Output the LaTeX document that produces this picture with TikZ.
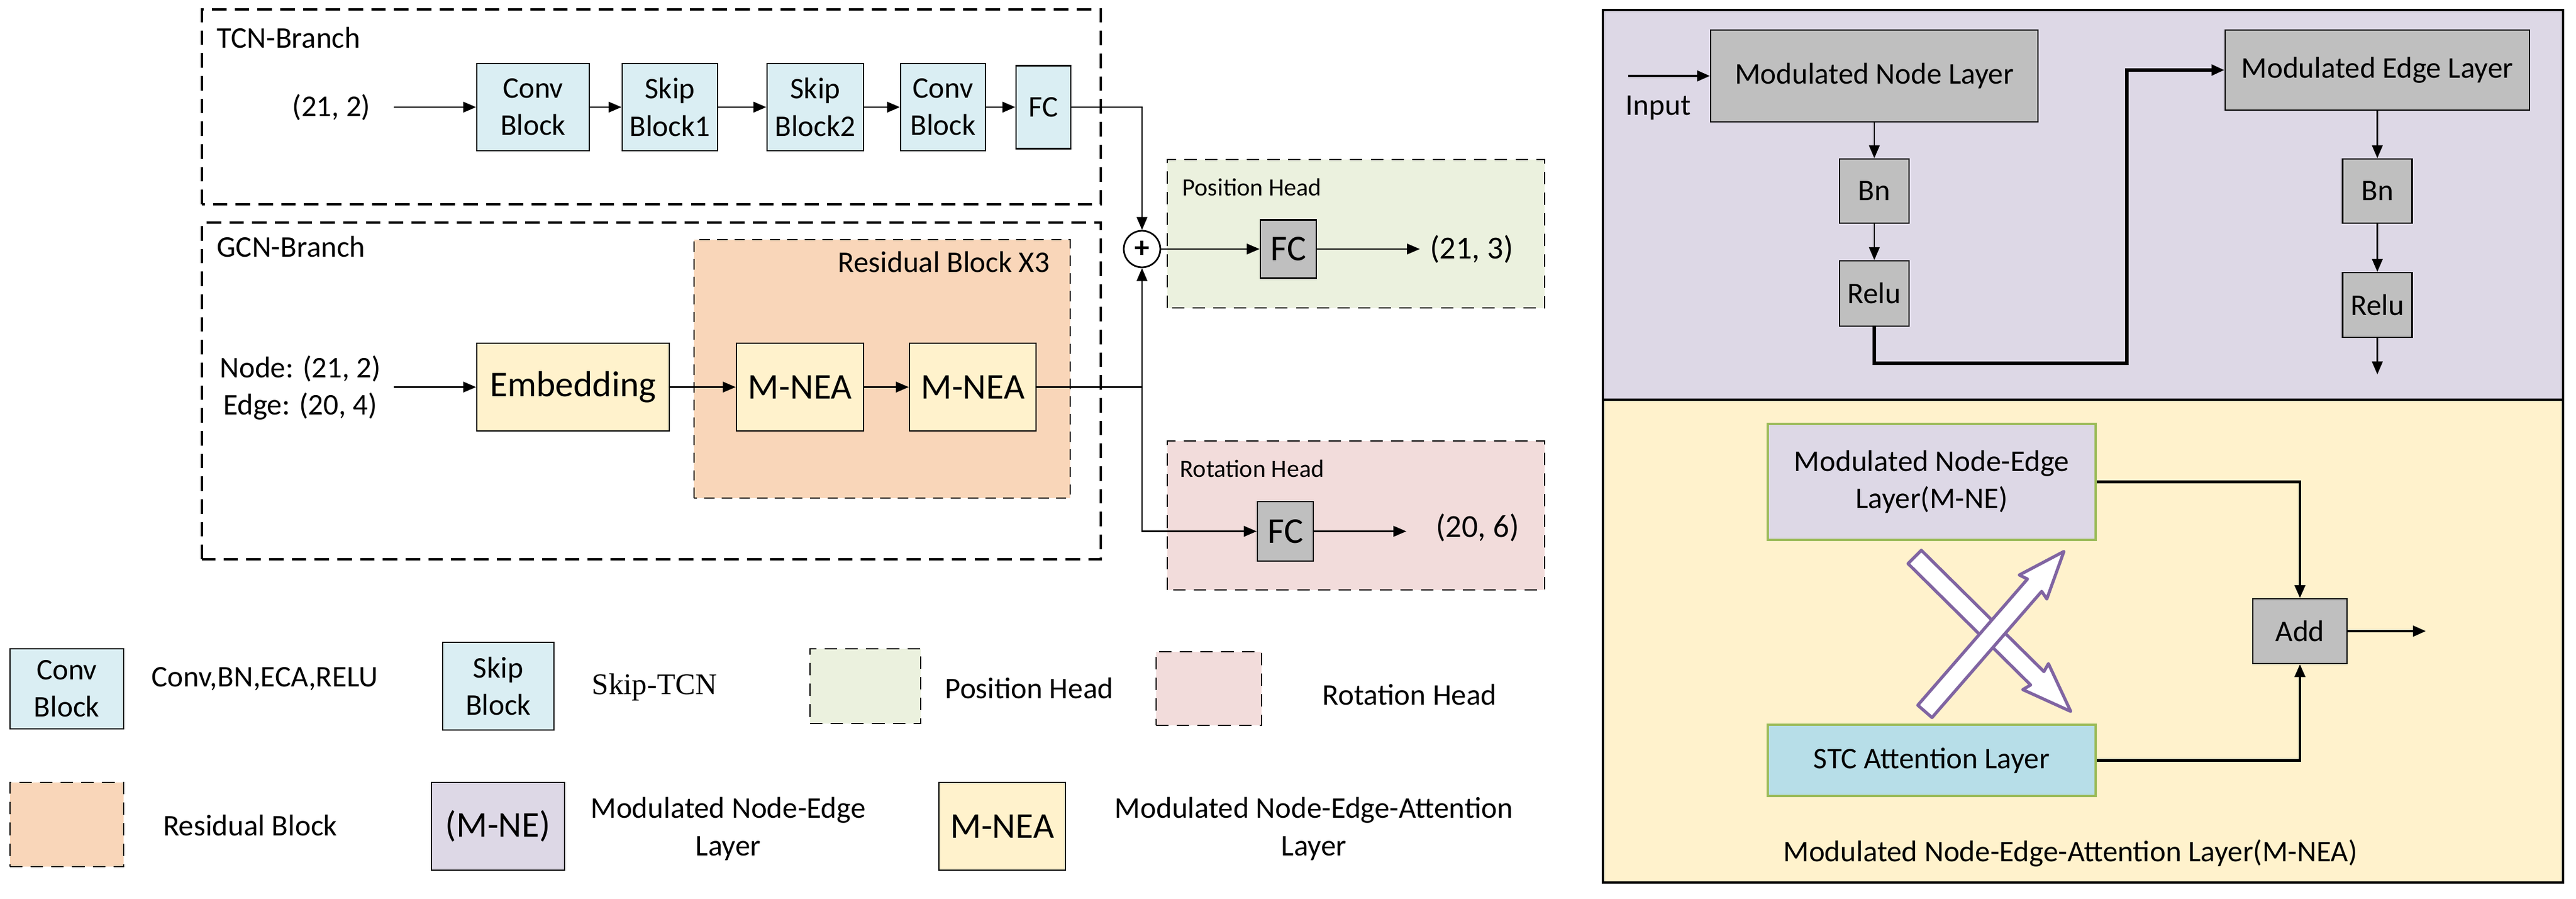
\documentclass[tikz,border=0pt]{standalone}
\usepackage{fontspec}
\setmainfont{Carlito}
\newfontfamily\timesfont{Liberation Serif}
\usetikzlibrary{arrows.meta}
\definecolor{convblue}{HTML}{DAEEF3}
\definecolor{embyellow}{HTML}{FFF2CC}
\definecolor{resorange}{HTML}{F9D6B9}
\definecolor{posgreen}{HTML}{EBF1DE}
\definecolor{rotpink}{HTML}{F2DCDB}
\definecolor{blockgray}{HTML}{BFBFBF}
\definecolor{panelpurple}{HTML}{DDD8E6}
\definecolor{stcblue}{HTML}{B7DEE8}
\definecolor{leafgreen}{HTML}{9BBB59}
\definecolor{crossviolet}{HTML}{8064A2}

\begin{document}
\begin{tikzpicture}[every node/.style={font=\fontsize{14.5}{18}\selectfont, align=center, inner sep=0pt},
    blk/.style={draw, line width=0.7pt},
    big/.style={font=\fontsize{17.5}{21}\selectfont},
    small/.style={font=\fontsize{12}{14}\selectfont},
    branch/.style={draw, line width=1pt, dash pattern=on 7pt off 4pt},
    headbox/.style={draw, line width=0.7pt, dash pattern=on 6pt off 4pt},
    resbox/.style={draw, line width=0.7pt, dash pattern=on 5pt off 3.5pt},
    arr/.style={-{Triangle[length=0.22cm,width=0.18cm]}, line width=0.8pt},
    rarr/.style={arr, line width=1.2pt},
    xarrow/.style={draw=crossviolet, fill=white, line width=1.5pt, line join=round}]
    \path[use as bounding box, fill=white] (0,0) rectangle (43.76,15.27);

    \draw[branch] (3.43,11.80) rectangle (18.70,15.11);
    \node[anchor=base west] (tcnlab) at (3.68,14.45) {TCN-Branch};
    \node (tcnin) at (5.63,13.45) {(21, 2)};
    \coordinate (tcnstart) at (6.69,13.45);
    \node[blk, fill=convblue, minimum width=1.91cm, minimum height=1.48cm] (conv1) at (9.055,13.45) {Conv\\Block};
    \node[blk, fill=convblue, minimum width=1.62cm, minimum height=1.48cm] (skip1) at (11.38,13.45) {Skip\\Block1};
    \node[blk, fill=convblue, minimum width=1.64cm, minimum height=1.48cm] (skip2) at (13.85,13.45) {Skip\\Block2};
    \node[blk, fill=convblue, minimum width=1.44cm, minimum height=1.48cm] (conv2) at (16.02,13.45) {Conv\\Block};
    \node[blk, fill=convblue, minimum width=0.93cm, minimum height=1.41cm] (fcT) at (17.725,13.45) {FC};
    \draw[arr] (tcnstart) -- (conv1);
    \foreach \a/\b in {conv1/skip1, skip1/skip2, skip2/conv2, conv2/fcT}
        \draw[arr] (\a) -- (\b);

    \draw[branch] (3.43,5.77) rectangle (18.70,11.49);
    \node[anchor=base west] (gcnlab) at (3.68,10.90) {GCN-Branch};
    \draw[resbox, fill=resorange] (11.79,6.81) rectangle (18.18,11.20);
    \node[anchor=base east] (reslab) at (17.84,10.64) {Residual Block X3};
    \node (gcnin) at (5.10,8.68) {Node: (21, 2)\\Edge: (20, 4)};
    \coordinate (gcnstart) at (6.69,8.695);
    \node[blk, fill=embyellow, big, minimum width=3.27cm, minimum height=1.49cm] (emb) at (9.735,8.695) {Embedding};
    \node[blk, fill=embyellow, big, minimum width=2.16cm, minimum height=1.49cm] (mnea1) at (13.59,8.695) {M-NEA};
    \node[blk, fill=embyellow, big, minimum width=2.15cm, minimum height=1.49cm] (mnea2) at (16.525,8.695) {M-NEA};
    \draw[arr] (gcnstart) -- (emb);
    \draw[arr] (emb) -- (mnea1);
    \draw[arr] (mnea1) -- (mnea2);

    \node[draw, circle, line width=0.8pt, fill=white, minimum size=0.62cm] (plus) at (19.40,11.04) {\textbf{+}};
    \coordinate (jn) at (19.40,8.695);
    \draw[line width=0.8pt] (mnea2) -- (jn);
    \draw[arr] (fcT) -| (plus);
    \draw[arr] (jn) -- (plus);

    \draw[headbox, fill=posgreen] (19.83,10.04) rectangle (26.24,12.56);
    \node[small, anchor=base west] (poslab) at (20.08,11.94) {Position Head};
    \node[blk, fill=blockgray, big, minimum width=0.95cm, minimum height=0.99cm] (fcP) at (21.885,11.04) {FC};
    \node[font=\fontsize{15.5}{18}\selectfont] (outP) at (25.00,11.04) {(21, 3)};
    \coordinate (endP) at (24.12,11.04);
    \draw[arr] (plus) -- (fcP);
    \draw[arr] (fcP) -- (endP);

    \draw[headbox, fill=rotpink] (19.83,5.25) rectangle (26.24,7.78);
    \node[small, anchor=base west] (rotlab) at (20.04,7.16) {Rotation Head};
    \node[blk, fill=blockgray, big, minimum width=0.95cm, minimum height=1.01cm] (fcR) at (21.835,6.245) {FC};
    \node[font=\fontsize{15.5}{18}\selectfont] (outR) at (25.10,6.31) {(20, 6)};
    \coordinate (endR) at (23.89,6.245);
    \draw[arr] (jn) |- (fcR);
    \draw[arr] (fcR) -- (endR);

    \fill[panelpurple] (27.23,8.48) rectangle (43.54,15.10);
    \fill[embyellow] (27.23,0.28) rectangle (43.54,8.48);
    \draw[line width=1pt] (27.23,0.28) rectangle (43.54,15.10);
    \draw[line width=1pt] (27.23,8.48) -- (43.54,8.48);

    \node[blk, fill=blockgray, minimum width=5.56cm, minimum height=1.56cm] (mnl) at (31.84,13.98) {Modulated Node Layer};
    \node (inlab) at (28.17,13.44) {Input};
    \coordinate (inputstart) at (27.66,13.98);
    \node[blk, fill=blockgray, minimum width=1.18cm, minimum height=1.09cm] (bn1) at (31.84,12.025) {Bn};
    \node[blk, fill=blockgray, minimum width=1.18cm, minimum height=1.11cm] (relu1) at (31.84,10.285) {Relu};
    \node[blk, fill=blockgray, minimum width=5.17cm, minimum height=1.36cm] (mel) at (40.385,14.08) {Modulated Edge Layer};
    \node[blk, fill=blockgray, minimum width=1.18cm, minimum height=1.09cm] (bn2) at (40.385,12.025) {Bn};
    \node[blk, fill=blockgray, minimum width=1.18cm, minimum height=1.10cm] (relu2) at (40.385,10.09) {Relu};
    \coordinate (turn) at (36.13,9.10);
    \coordinate (relu2end) at (40.385,8.91);
    \draw[rarr] (inputstart) -- (mnl);
    \draw[arr] (mnl) -- (bn1);
    \draw[arr] (bn1) -- (relu1);
    \draw[rarr, line width=1.5pt] (relu1) |- (turn) |- (mel);
    \draw[arr] (mel) -- (bn2);
    \draw[arr] (bn2) -- (relu2);
    \draw[arr] (relu2) -- (relu2end);

    \node[draw=leafgreen, line width=1pt, fill=panelpurple, minimum width=5.57cm, minimum height=1.97cm] (mne) at (32.815,7.085) {Modulated Node-Edge\\Layer(M-NE)};
    \node[draw=leafgreen, line width=1pt, fill=stcblue, minimum width=5.57cm, minimum height=1.21cm] (stc) at (32.815,2.355) {STC Attention Layer};
    \node[blk, fill=blockgray, minimum width=1.60cm, minimum height=1.10cm] (add) at (39.07,4.55) {Add};
    \coordinate (addend) at (41.21,4.55);
    \draw[rarr] (mne) -| (add);
    \draw[rarr] (stc) -| (add);
    \draw[rarr] (add) -- (addend);
    \begin{scope}[shift={(33.851,4.498)}, rotate=-44.7]
        \draw[xarrow] (-1.865,0.16) -- (1.065,0.16) -- (1.025,0.31) -- (1.865,0) -- (1.025,-0.31) -- (1.065,-0.16) -- (-1.865,-0.16) -- cycle;
    \end{scope}
    \begin{scope}[shift={(33.88,4.545)}, rotate=49.0]
        \draw[xarrow] (-1.80,0.16) -- (1.04,0.16) -- (1.00,0.31) -- (1.80,0) -- (1.00,-0.31) -- (1.04,-0.16) -- (-1.80,-0.16) -- cycle;
    \end{scope}
    \node (mneacap) at (35.17,0.78) {Modulated Node-Edge-Attention Layer(M-NEA)};

    \node[blk, fill=convblue, minimum width=1.93cm, minimum height=1.36cm] (lconv) at (1.135,3.57) {Conv\\Block};
    \node (lconvtxt) at (4.50,3.74) {Conv,BN,ECA,RELU};
    \node[blk, fill=convblue, minimum width=1.89cm, minimum height=1.49cm] (lskip) at (8.465,3.615) {Skip\\Block};
    \node[font=\timesfont\fontsize{14.5}{18}\selectfont] (lskiptxt) at (11.12,3.60) {Skip-TCN};
    \node[headbox, fill=posgreen, minimum width=1.88cm, minimum height=1.27cm] (lpos) at (14.70,3.615) {};
    \node (lpostxt) at (17.485,3.58) {Position Head};
    \node[headbox, fill=rotpink, minimum width=1.79cm, minimum height=1.25cm] (lrot) at (20.535,3.575) {};
    \node (lrottxt) at (23.945,3.47) {Rotation Head};
    \node[headbox, fill=resorange, minimum width=1.93cm, minimum height=1.43cm] (lres) at (1.135,1.265) {};
    \node (lrestxt) at (4.25,1.25) {Residual Block};
    \node[blk, fill=panelpurple, big, minimum width=2.26cm, minimum height=1.49cm] (lmne) at (8.46,1.235) {(M-NE)};
    \node (lmnetxt) at (12.37,1.19) {Modulated Node-Edge\\Layer};
    \node[blk, fill=embyellow, big, minimum width=2.15cm, minimum height=1.49cm] (lmnea) at (17.025,1.235) {M-NEA};
    \node (lmneatxt) at (22.32,1.19) {Modulated Node-Edge-Attention\\Layer};
\end{tikzpicture}
\end{document}
